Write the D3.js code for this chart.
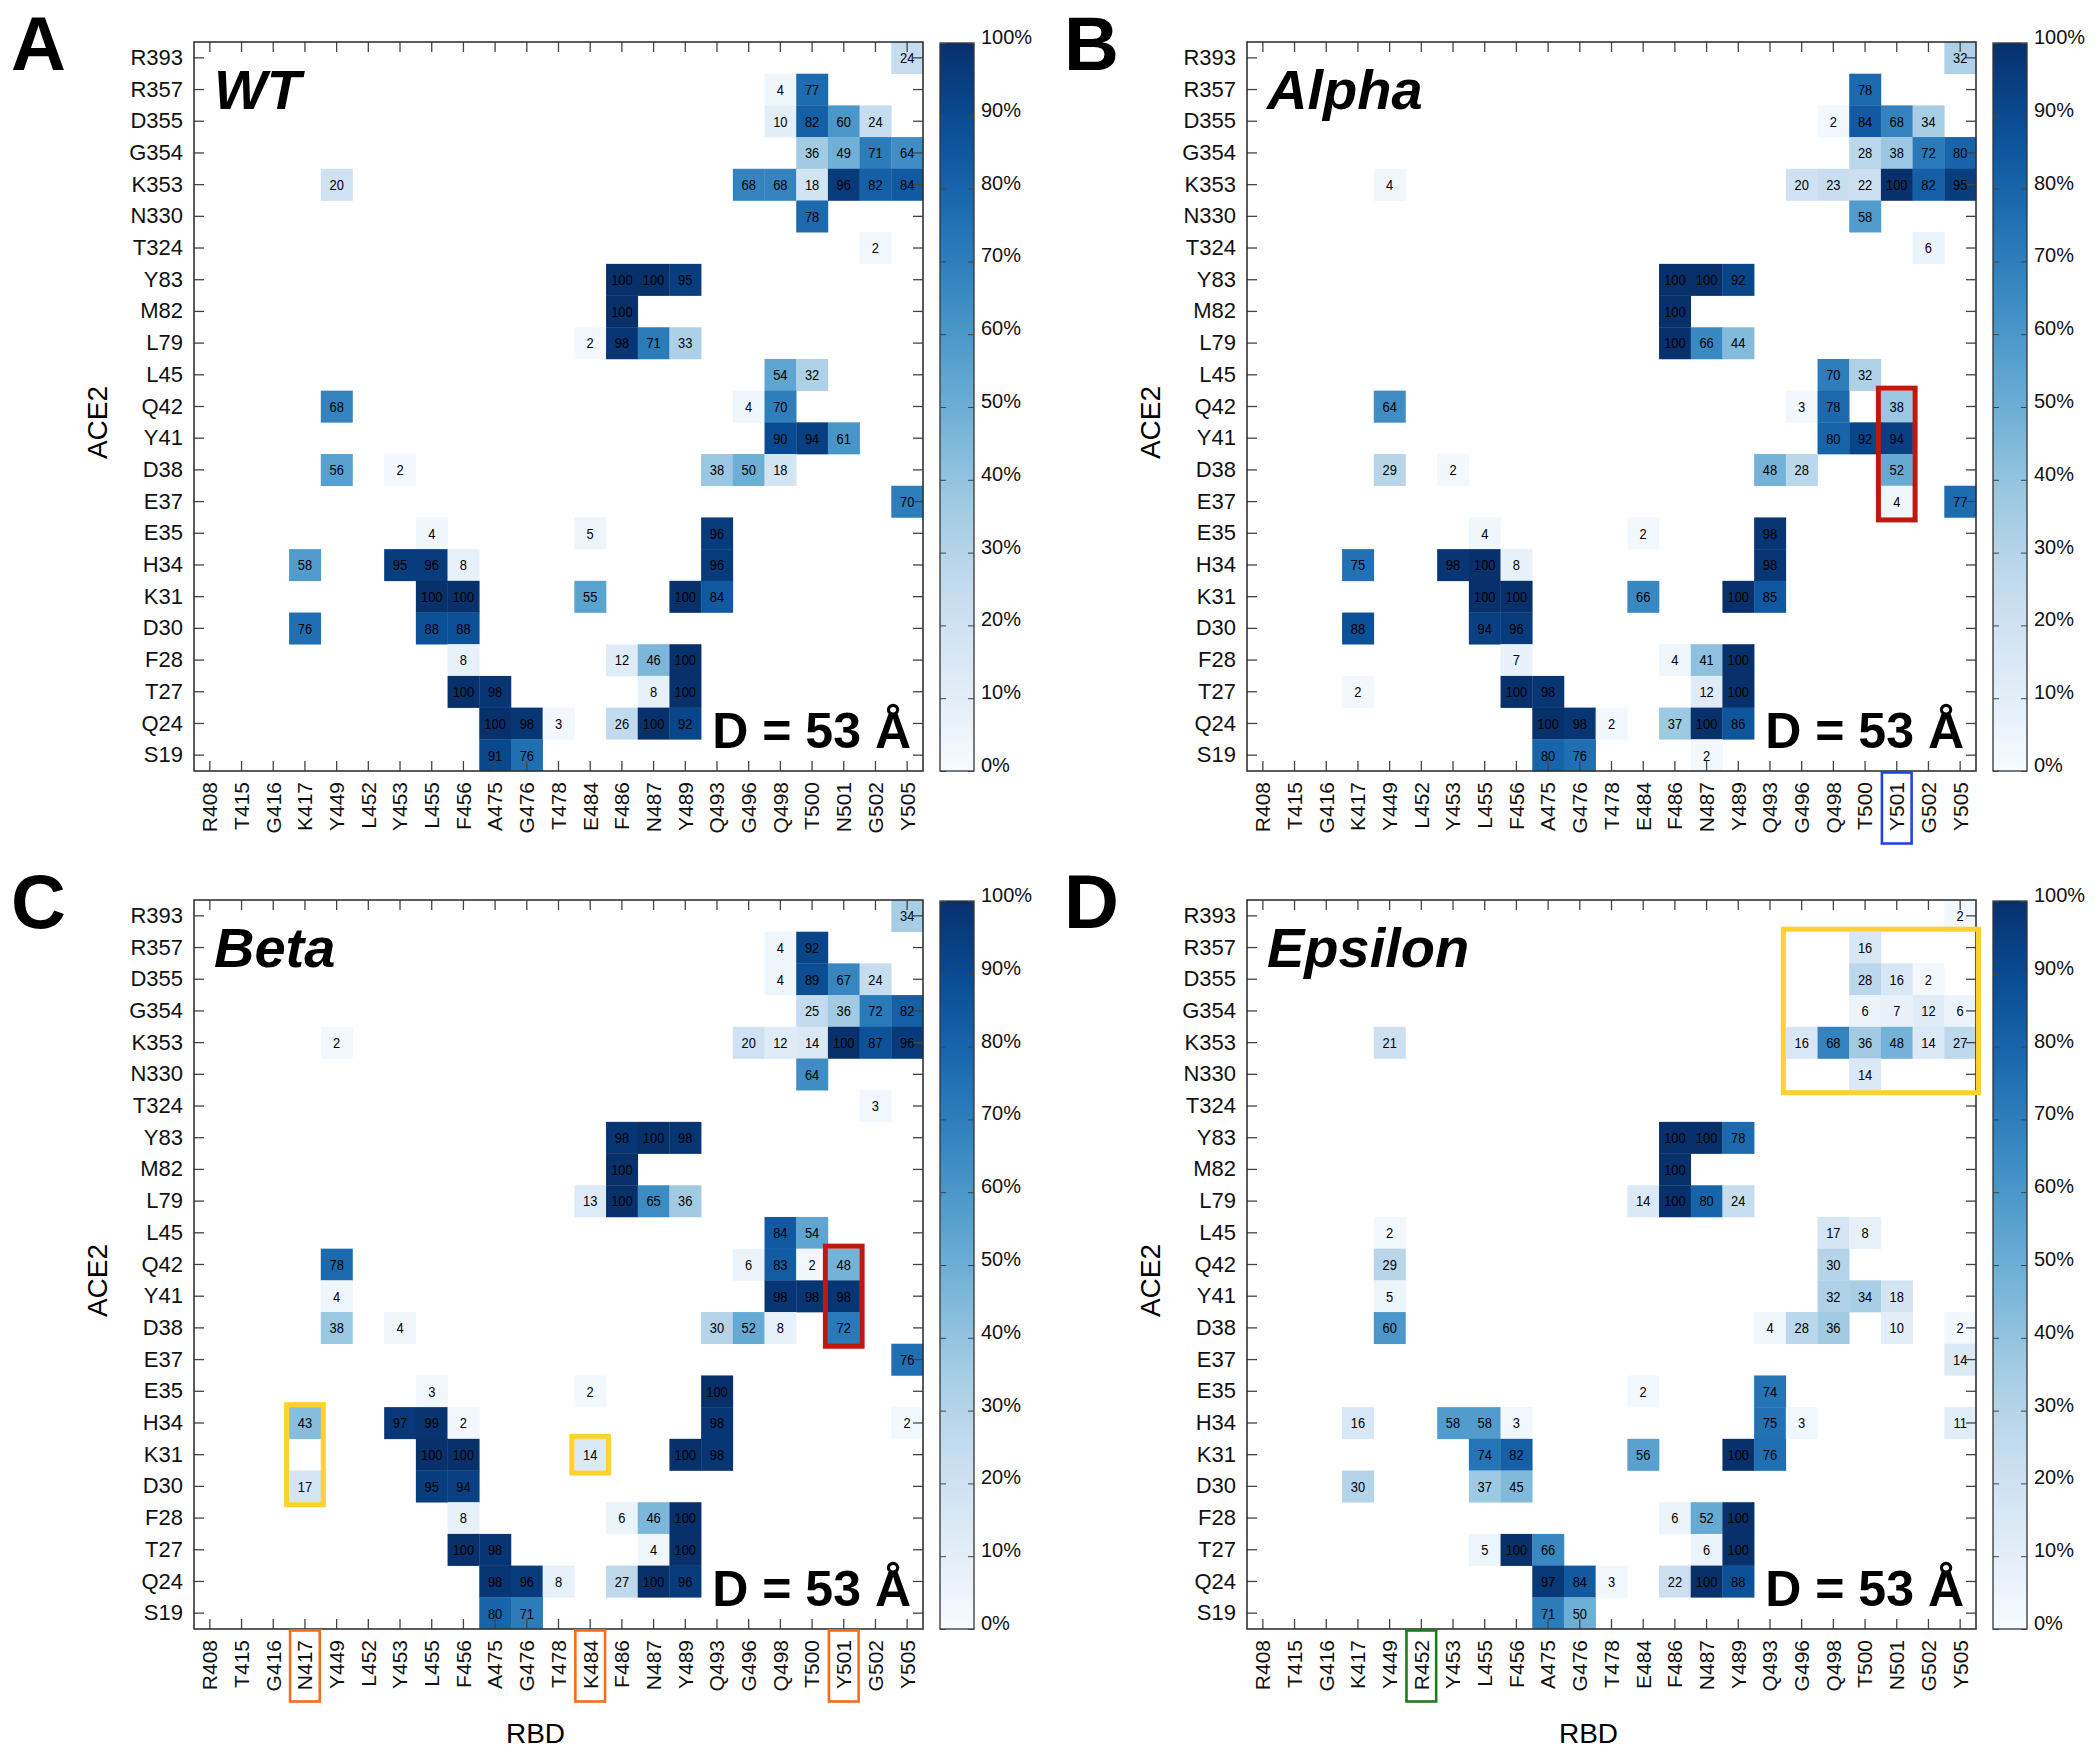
<!DOCTYPE html>
<html>
<head>
<meta charset="utf-8">
<script src="https://cdn.jsdelivr.net/npm/d3@7"></script>
<style>
  html, body { margin: 0; padding: 0; background: #fff; }
  svg { display: block; }
</style>
</head>
<body>
<svg id="chart" width="2100" height="1758"></svg>
<script>
// ---------------- DATA ----------------
const ace2Rows = ["R393","R357","D355","G354","K353","N330","T324","Y83","M82","L79","L45","Q42","Y41","D38","E37","E35","H34","K31","D30","F28","T27","Q24","S19"];

const rbdWT      = ["R408","T415","G416","K417","Y449","L452","Y453","L455","F456","A475","G476","T478","E484","F486","N487","Y489","Q493","G496","Q498","T500","N501","G502","Y505"];
const rbdAlpha   = ["R408","T415","G416","K417","Y449","L452","Y453","L455","F456","A475","G476","T478","E484","F486","N487","Y489","Q493","G496","Q498","T500","Y501","G502","Y505"];
const rbdBeta    = ["R408","T415","G416","N417","Y449","L452","Y453","L455","F456","A475","G476","T478","K484","F486","N487","Y489","Q493","G496","Q498","T500","Y501","G502","Y505"];
const rbdEpsilon = ["R408","T415","G416","K417","Y449","R452","Y453","L455","F456","A475","G476","T478","E484","F486","N487","Y489","Q493","G496","Q498","T500","N501","G502","Y505"];

// [ACE2 residue, RBD residue, contact %]
const wtContacts = [
  ["R393","Y505",24],
  ["R357","Q498",4],["R357","T500",77],
  ["D355","Q498",10],["D355","T500",82],["D355","N501",60],["D355","G502",24],
  ["G354","T500",36],["G354","N501",49],["G354","G502",71],["G354","Y505",64],
  ["K353","Y449",20],["K353","G496",68],["K353","Q498",68],["K353","T500",18],["K353","N501",96],["K353","G502",82],["K353","Y505",84],
  ["N330","T500",78],
  ["T324","G502",2],
  ["Y83","F486",100],["Y83","N487",100],["Y83","Y489",95],
  ["M82","F486",100],
  ["L79","E484",2],["L79","F486",98],["L79","N487",71],["L79","Y489",33],
  ["L45","Q498",54],["L45","T500",32],
  ["Q42","Y449",68],["Q42","G496",4],["Q42","Q498",70],
  ["Y41","Q498",90],["Y41","T500",94],["Y41","N501",61],
  ["D38","Y449",56],["D38","Y453",2],["D38","Q493",38],["D38","G496",50],["D38","Q498",18],
  ["E37","Y505",70],
  ["E35","L455",4],["E35","E484",5],["E35","Q493",96],
  ["H34","K417",58],["H34","Y453",95],["H34","L455",96],["H34","F456",8],["H34","Q493",96],
  ["K31","L455",100],["K31","F456",100],["K31","E484",55],["K31","Y489",100],["K31","Q493",84],
  ["D30","K417",76],["D30","L455",88],["D30","F456",88],
  ["F28","F456",8],["F28","F486",12],["F28","N487",46],["F28","Y489",100],
  ["T27","F456",100],["T27","A475",98],["T27","N487",8],["T27","Y489",100],
  ["Q24","A475",100],["Q24","G476",98],["Q24","T478",3],["Q24","F486",26],["Q24","N487",100],["Q24","Y489",92],
  ["S19","A475",91],["S19","G476",76]
];

const alphaContacts = [
  ["R393","Y505",32],
  ["R357","T500",78],
  ["D355","Q498",2],["D355","T500",84],["D355","Y501",68],["D355","G502",34],
  ["G354","T500",28],["G354","Y501",38],["G354","G502",72],["G354","Y505",80],
  ["K353","Y449",4],["K353","G496",20],["K353","Q498",23],["K353","T500",22],["K353","Y501",100],["K353","G502",82],["K353","Y505",95],
  ["N330","T500",58],
  ["T324","G502",6],
  ["Y83","F486",100],["Y83","N487",100],["Y83","Y489",92],
  ["M82","F486",100],
  ["L79","F486",100],["L79","N487",66],["L79","Y489",44],
  ["L45","Q498",70],["L45","T500",32],
  ["Q42","Y449",64],["Q42","G496",3],["Q42","Q498",78],["Q42","Y501",38],
  ["Y41","Q498",80],["Y41","T500",92],["Y41","Y501",94],
  ["D38","Y449",29],["D38","Y453",2],["D38","Q493",48],["D38","G496",28],["D38","Y501",52],
  ["E37","Y501",4],["E37","Y505",77],
  ["E35","L455",4],["E35","E484",2],["E35","Q493",98],
  ["H34","K417",75],["H34","Y453",98],["H34","L455",100],["H34","F456",8],["H34","Q493",98],
  ["K31","L455",100],["K31","F456",100],["K31","E484",66],["K31","Y489",100],["K31","Q493",85],
  ["D30","K417",88],["D30","L455",94],["D30","F456",96],
  ["F28","F456",7],["F28","F486",4],["F28","N487",41],["F28","Y489",100],
  ["T27","K417",2],["T27","F456",100],["T27","A475",98],["T27","N487",12],["T27","Y489",100],
  ["Q24","A475",100],["Q24","G476",98],["Q24","T478",2],["Q24","F486",37],["Q24","N487",100],["Q24","Y489",86],
  ["S19","A475",80],["S19","G476",76],["S19","N487",2]
];

const betaContacts = [
  ["R393","Y505",34],
  ["R357","Q498",4],["R357","T500",92],
  ["D355","Q498",4],["D355","T500",89],["D355","Y501",67],["D355","G502",24],
  ["G354","T500",25],["G354","Y501",36],["G354","G502",72],["G354","Y505",82],
  ["K353","Y449",2],["K353","G496",20],["K353","Q498",12],["K353","T500",14],["K353","Y501",100],["K353","G502",87],["K353","Y505",96],
  ["N330","T500",64],
  ["T324","G502",3],
  ["Y83","F486",98],["Y83","N487",100],["Y83","Y489",98],
  ["M82","F486",100],
  ["L79","K484",13],["L79","F486",100],["L79","N487",65],["L79","Y489",36],
  ["L45","Q498",84],["L45","T500",54],
  ["Q42","Y449",78],["Q42","G496",6],["Q42","Q498",83],["Q42","T500",2],["Q42","Y501",48],
  ["Y41","Y449",4],["Y41","Q498",98],["Y41","T500",98],["Y41","Y501",98],
  ["D38","Y449",38],["D38","Y453",4],["D38","Q493",30],["D38","G496",52],["D38","Q498",8],["D38","Y501",72],
  ["E37","Y505",76],
  ["E35","L455",3],["E35","K484",2],["E35","Q493",100],
  ["H34","N417",43],["H34","Y453",97],["H34","L455",99],["H34","F456",2],["H34","Q493",98],["H34","Y505",2],
  ["K31","L455",100],["K31","F456",100],["K31","K484",14],["K31","Y489",100],["K31","Q493",98],
  ["D30","N417",17],["D30","L455",95],["D30","F456",94],
  ["F28","F456",8],["F28","F486",6],["F28","N487",46],["F28","Y489",100],
  ["T27","F456",100],["T27","A475",98],["T27","N487",4],["T27","Y489",100],
  ["Q24","A475",98],["Q24","G476",96],["Q24","T478",8],["Q24","F486",27],["Q24","N487",100],["Q24","Y489",96],
  ["S19","A475",80],["S19","G476",71]
];

const epsilonContacts = [
  ["R393","Y505",2],
  ["R357","T500",16],
  ["D355","T500",28],["D355","N501",16],["D355","G502",2],
  ["G354","T500",6],["G354","N501",7],["G354","G502",12],["G354","Y505",6],
  ["K353","Y449",21],["K353","G496",16],["K353","Q498",68],["K353","T500",36],["K353","N501",48],["K353","G502",14],["K353","Y505",27],
  ["N330","T500",14],
  ["Y83","F486",100],["Y83","N487",100],["Y83","Y489",78],
  ["M82","F486",100],
  ["L79","E484",14],["L79","F486",100],["L79","N487",80],["L79","Y489",24],
  ["L45","Y449",2],["L45","Q498",17],["L45","T500",8],
  ["Q42","Y449",29],["Q42","Q498",30],
  ["Y41","Y449",5],["Y41","Q498",32],["Y41","T500",34],["Y41","N501",18],
  ["D38","Y449",60],["D38","Q493",4],["D38","G496",28],["D38","Q498",36],["D38","N501",10],["D38","Y505",2],
  ["E37","Y505",14],
  ["E35","E484",2],["E35","Q493",74],
  ["H34","K417",16],["H34","Y453",58],["H34","L455",58],["H34","F456",3],["H34","Q493",75],["H34","G496",3],["H34","Y505",11],
  ["K31","L455",74],["K31","F456",82],["K31","E484",56],["K31","Y489",100],["K31","Q493",76],
  ["D30","K417",30],["D30","L455",37],["D30","F456",45],
  ["F28","F486",6],["F28","N487",52],["F28","Y489",100],
  ["T27","L455",5],["T27","F456",100],["T27","A475",66],["T27","N487",6],["T27","Y489",100],
  ["Q24","A475",97],["Q24","G476",84],["Q24","T478",3],["Q24","F486",22],["Q24","N487",100],["Q24","Y489",88],
  ["S19","A475",71],["S19","G476",50]
];

const colorbarTicks = [0,10,20,30,40,50,60,70,80,90,100];

// highlight annotations: [panel, RBD column, first ACE2 row, last ACE2 row, colour, (last RBD column)]
const cellHighlights = [
  ["B","Y501","Q42","E37","#c0180e"],
  ["C","Y501","Q42","D38","#c0180e"],
  ["C","N417","H34","D30","#fdd22f"],
  ["C","K484","K31","K31","#fdd22f"],
  ["D","G496","R357","N330","#fdd22f","Y505"]
];
// tick-label boxes: [panel, RBD label, colour]
const labelHighlights = [
  ["B","Y501","#2244e6"],
  ["C","N417","#f36d1c"],
  ["C","K484","#f36d1c"],
  ["C","Y501","#f36d1c"],
  ["D","R452","#1e7b1e"]
];

// ---------------- DRAW ----------------
const FONT = "'Liberation Sans', Arial, Helvetica, sans-serif";
const svg = d3.select("#chart");
svg.append("rect").attr("width",2100).attr("height",1758).attr("fill","#fff");

const SIZE = 729;
const color = d3.scaleSequential(d3.interpolateBlues).domain([0,100]);

const defs = svg.append("defs");
const grad = defs.append("linearGradient").attr("id","cbgrad")
  .attr("x1","0").attr("y1","1").attr("x2","0").attr("y2","0");
d3.range(0,101,2).forEach(v => grad.append("stop").attr("offset", v/100).attr("stop-color", color(v)));

const panels = [
  {id:"A", title:"WT",      x0:194,  y0:42,  cols:rbdWT,      data:wtContacts,      xTitle:false},
  {id:"B", title:"Alpha",   x0:1247, y0:42,  cols:rbdAlpha,   data:alphaContacts,   xTitle:false},
  {id:"C", title:"Beta",    x0:194,  y0:900, cols:rbdBeta,    data:betaContacts,    xTitle:true},
  {id:"D", title:"Epsilon", x0:1247, y0:900, cols:rbdEpsilon, data:epsilonContacts, xTitle:true}
];

panels.forEach(p => {
  const g = svg.append("g");
  const x = d3.scaleBand().domain(p.cols).range([p.x0, p.x0+SIZE]);
  const y = d3.scaleBand().domain(ace2Rows).range([p.y0, p.y0+SIZE]);
  const right = p.x0 + SIZE, bottom = p.y0 + SIZE;

  g.selectAll("rect.cell").data(p.data).join("rect")
    .attr("class","cell")
    .attr("x", d => x(d[1])).attr("y", d => y(d[0]))
    .attr("width", x.bandwidth()+0.3).attr("height", y.bandwidth()+0.3)
    .attr("fill", d => color(d[2]));

  g.selectAll("text.val").data(p.data).join("text")
    .attr("class","val")
    .attr("transform", d => `translate(${x(d[1])+x.bandwidth()/2},${y(d[0])+y.bandwidth()/2}) scale(0.86,1)`)
    .attr("text-anchor","middle").attr("dominant-baseline","central")
    .attr("font-family", FONT).attr("font-size", 15).attr("fill","#000")
    .text(d => d[2]);

  const axL = g.append("g").attr("transform",`translate(${p.x0},0)`)
    .call(d3.axisLeft(y).tickSize(-10).tickPadding(11));
  axL.selectAll("text").attr("font-family",FONT).attr("font-size",22).attr("fill","#111");
  const axR = g.append("g").attr("transform",`translate(${right},0)`)
    .call(d3.axisRight(y).tickSize(-10).tickFormat(""));
  const axT = g.append("g").attr("transform",`translate(0,${p.y0})`)
    .call(d3.axisTop(x).tickSize(-10).tickFormat(""));
  const axB = g.append("g").attr("transform",`translate(0,${bottom})`)
    .call(d3.axisBottom(x).tickSize(-10).tickPadding(11));
  axB.selectAll("text")
    .attr("transform","rotate(-90)").attr("x",-11).attr("y",0).attr("dy","0.35em")
    .style("text-anchor","end")
    .attr("font-family",FONT).attr("font-size",21).attr("fill","#111");
  [axL,axR,axT,axB].forEach(a => {
    a.select(".domain").remove();
    a.selectAll(".tick line").attr("stroke","#444").attr("stroke-width",1.3);
  });

  g.append("rect").attr("x",p.x0).attr("y",p.y0).attr("width",SIZE).attr("height",SIZE)
    .attr("fill","none").attr("stroke","#333").attr("stroke-width",1.6);

  g.append("text").attr("x",p.x0+20).attr("y",p.y0+67)
    .attr("font-family",FONT).attr("font-weight","bold").attr("font-style","italic")
    .attr("font-size",56).text(p.title);

  g.append("text").attr("x",right-12).attr("y",bottom-23)
    .attr("text-anchor","end").attr("font-family",FONT).attr("font-weight","bold")
    .attr("font-size",50).text("D = 53 Å");

  g.append("text").attr("x",p.x0-183).attr("y",p.y0+28)
    .attr("font-family",FONT).attr("font-weight","bold").attr("font-size",76).text(p.id);

  g.append("text")
    .attr("transform",`translate(${p.x0-97},${p.y0+SIZE/2+16}) rotate(-90)`)
    .attr("text-anchor","middle").attr("dominant-baseline","central")
    .attr("font-family",FONT).attr("font-size",28).text("ACE2");
  if (p.xTitle) {
    g.append("text").attr("x",p.x0+SIZE/2-23).attr("y",bottom+114)
      .attr("text-anchor","middle").attr("font-family",FONT).attr("font-size",28).text("RBD");
  }

  // colorbar
  const cbX = right + 17, cbW = 34;
  const cy = d3.scaleLinear().domain([0,100]).range([bottom, p.y0+1]);
  g.append("rect").attr("x",cbX).attr("y",p.y0+1).attr("width",cbW).attr("height",SIZE-1)
    .attr("fill","url(#cbgrad)").attr("stroke","#333").attr("stroke-width",1.3);
  const cbAx = g.append("g").attr("transform",`translate(${cbX+cbW},0)`)
    .call(d3.axisRight(cy).tickValues(colorbarTicks).tickSize(-6).tickPadding(7).tickFormat(d => d+"%"));
  cbAx.select(".domain").remove();
  cbAx.selectAll(".tick line").attr("stroke","#444").attr("stroke-width",1);
  cbAx.selectAll("text").attr("font-family",FONT).attr("font-size",20).attr("fill","#111").attr("y",-6);
  const cbAxL = g.append("g").attr("transform",`translate(${cbX},0)`)
    .call(d3.axisLeft(cy).tickValues(colorbarTicks).tickSize(-6).tickFormat(""));
  cbAxL.select(".domain").remove();
  cbAxL.selectAll(".tick line").attr("stroke","#444").attr("stroke-width",1);

  cellHighlights.filter(h => h[0]===p.id).forEach(h => {
    const c0 = h[1], c1 = h[5] || h[1];
    const x0 = x(c0), x1 = x(c1) + x.bandwidth();
    const y0 = y(h[2]), y1 = y(h[3]) + y.bandwidth();
    g.append("rect").attr("x",x0-2.5).attr("y",y0-2.5)
      .attr("width",x1-x0+5).attr("height",y1-y0+5)
      .attr("fill","none").attr("stroke",h[4]).attr("stroke-width",5);
  });
  labelHighlights.filter(h => h[0]===p.id).forEach(h => {
    g.append("rect").attr("x",x(h[1])+1).attr("y",bottom+1.5)
      .attr("width",x.bandwidth()-2).attr("height",71)
      .attr("fill","none").attr("stroke",h[2]).attr("stroke-width",2.6);
  });
});
</script>
</body>
</html>
